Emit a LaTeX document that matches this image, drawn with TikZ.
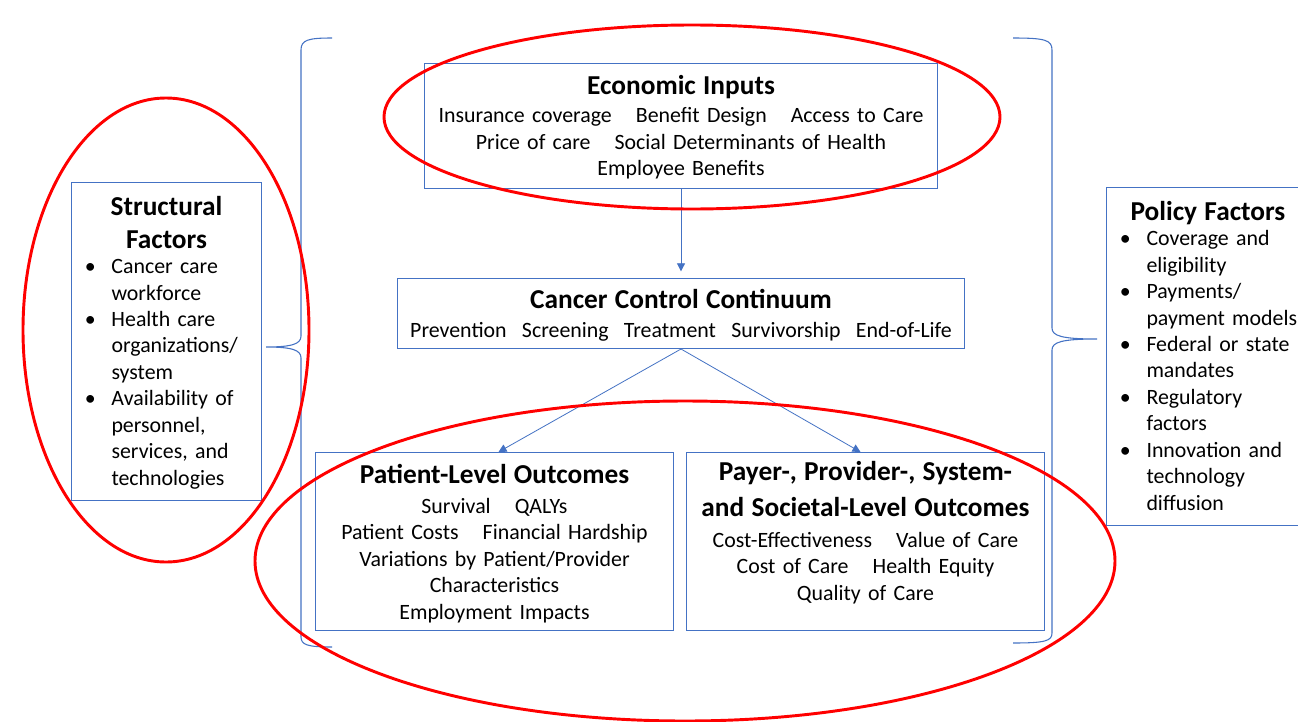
\documentclass[tikz,border=0pt]{standalone}
\usepackage{fontspec}
\setmainfont{Carlito}
\usepackage{tikz}
\usetikzlibrary{shapes.geometric}
\usetikzlibrary{calc}
\usetikzlibrary{positioning, arrows.meta}

\definecolor{boxblue}{RGB}{68,114,196}
\definecolor{ringred}{RGB}{255,0,0}
\lineskiplimit=-3pt

\newcommand{\ttl}{\fontsize{20.5}{24.75}\selectfont\bfseries}
\newcommand{\gap}{\hspace{1.1em}}
\newcommand{\itm}[1]{\par\vspace{-1.2pt}\noindent\hspace*{10pt}\makebox[20pt][l]{\textbullet}\begin{tabular}[t]{@{}l@{}}#1\end{tabular}}

\tikzset{
    box/.style={draw=boxblue, line width=0.75pt, inner sep=0pt, anchor=north west,
        font=\fontsize{16.4}{19.9}\selectfont},
    conn/.style={draw=boxblue, line width=0.6pt, -{Triangle[length=6pt, width=6pt]}},
    brc/.style={draw=boxblue, line width=0.8pt},
    ring/.style={draw=ringred, line width=2.2pt}
}

\begin{document}
\begin{tikzpicture}[x=0.75pt, y=-0.75pt]
    \clip (0,0) rectangle (1298,721);
    \fill[white] (0,0) rectangle (1298,721);

    % boxes
    \node[box, align=center, text width=384.75pt, minimum height=93.75pt] (econ) at (424,63) {
        {\ttl\rule{0pt}{16pt}Economic Inputs\par}\vspace{1.5pt}
        Insurance coverage\gap Benefit Design\gap Access to Care\\
        Price of care\gap Social Determinants of Health\\
        Employee Benefits
    };
    \node[box, align=center, text width=425.25pt, minimum height=52.5pt] (cont) at (397,278) {
        {\ttl\rule{0pt}{17.5pt}Cancer Control Continuum\par}\vspace{2pt}
        Prevention\hspace{0.7em}Screening\hspace{0.7em}Treatment\hspace{0.7em}Survivorship\hspace{0.7em}End-of-Life
    };
    \node[box, align=center, text width=268.5pt, minimum height=133.5pt] (pat) at (315,452) {
        {\ttl\rule{0pt}{17.5pt}Patient-Level Outcomes\par}\vspace{2.5pt}
        Survival\gap QALYs\\
        Patient Costs\gap Financial Hardship\\
        Variations by Patient/Provider\\
        Characteristics\\
        Employment Impacts
    };
    \node[box, align=center, text width=268.5pt, minimum height=133.5pt] (payer) at (686,452) {
        {\ttl Payer-, Provider-, System-\\[2.2pt]and Societal-Level Outcomes\par}\vspace{3pt}
        Cost-Effectiveness\gap Value of Care\\
        Cost of Care\gap Health Equity\\
        Quality of Care\rule[-16pt]{0pt}{0pt}
    };
    \node[box, align=left, text width=142.5pt, minimum height=238.5pt] (struct) at (71,182) {
        {\centering\ttl\rule{0pt}{19.5pt}Structural\\Factors\par}
        \itm{Cancer care\\workforce}
        \itm{Health care\\organizations/\\system}
        \itm{Availability of\\personnel,\\services, and\\technologies}
    };
    \node[box, align=left, text width=160pt, minimum height=253.5pt] (policy) at (1106,187) {
        {\ttl\hspace*{18pt}\rule{0pt}{19.5pt}Policy Factors\par}
        \itm{Coverage and\\eligibility}
        \itm{Payments/\\payment models}
        \itm{Federal or state\\mandates}
        \itm{Regulatory\\factors}
        \itm{Innovation and\\technology\\diffusion}
    };

    % arrows
    \draw[conn, shorten >=5pt] (econ.south) -- (cont.north);
    \draw[conn] (cont.south) -- ($(pat.north)+(4,0)$);
    \draw[conn] (cont.south) -- ($(payer.north)+(-5,0)$);

    % braces
    \draw[brc] (332,38) .. controls (308,38) and (301,40) .. (301,50) -- (301,336)
        .. controls (301,344) and (292,347) .. (266,347)
        .. controls (292,347) and (301,350) .. (301,358) -- (301,637)
        .. controls (301,645) and (308,647) .. (332,647);
    \draw[brc] (1013,38) .. controls (1045,38) and (1052,40) .. (1052,50) -- (1052,328)
        .. controls (1052,336) and (1062,339) .. (1097,339)
        .. controls (1062,339) and (1052,342) .. (1052,350) -- (1052,633)
        .. controls (1052,641) and (1045,643) .. (1013,643);

    % red rings
    \draw[ring] (692,117) ellipse [x radius=308, y radius=92];
    \draw[ring] (166,330) ellipse [x radius=143, y radius=232];
    \draw[ring] (685,561) ellipse [x radius=430, y radius=160];
\end{tikzpicture}
\end{document}
